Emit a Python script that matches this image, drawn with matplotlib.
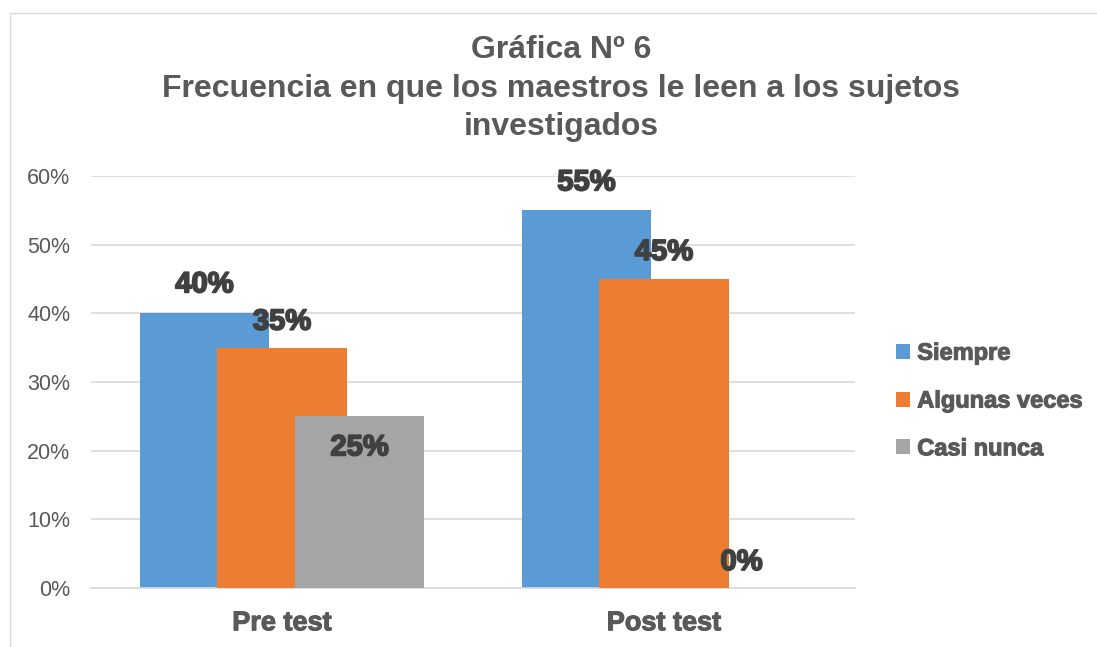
import matplotlib
matplotlib.use("Agg")
import matplotlib.pyplot as plt
import matplotlib.patheffects as pe
from matplotlib.patches import Rectangle
import numpy as np

# ---- data ----
categories = ["Pre test", "Post test"]
series_names = ["Siempre", "Algunas veces", "Casi nunca"]
siempre = [0.40, 0.55]
algunas_veces = [0.35, 0.45]
casi_nunca = [0.25, 0.00]
yticks = [0.0, 0.1, 0.2, 0.3, 0.4, 0.5, 0.6]
ytick_labels = ["0%", "10%", "20%", "30%", "40%", "50%", "60%"]
title_lines = ["Gráfica Nº 6",
               "Frecuencia en que los maestros le leen a los sujetos",
               "investigados"]

# ---- style ----
colors = ["#5B9BD5", "#ED7D31", "#A5A5A5"]
text_gray = "#595959"
label_gray = "#404040"
grid_gray = "#D9D9D9"
plt.rcParams["font.family"] = ["Liberation Sans", "DejaVu Sans"]

W, H = 1097, 647
fig = plt.figure(figsize=(W / 100, H / 100), dpi=100)
fig.patch.set_facecolor("white")

# outer chart frame
fig.patches.append(Rectangle((10 / W, -0.2), 1.5, 1.2 - 13 / H,
                             transform=fig.transFigure, fill=False,
                             edgecolor="#D9D9D9", linewidth=1.0))

ax = fig.add_axes([91 / W, 1 - 588 / H, (855 - 91) / W, (588 - 176) / H])
ax.set_xlim(-0.5, 1.5)
ax.set_ylim(0, 0.6)

x = np.arange(len(categories))
step = 0.203
width = 0.34
all_series = [siempre, algunas_veces, casi_nunca]
# per-bar label offsets in pixels (vertical center offset from bar top)
label_offsets = [[29, 28], [26, 27], [-31, 26]]

for i, (vals, name) in enumerate(zip(all_series, series_names)):
    pos = x + (i - 1) * step
    ax.bar(pos, vals, width=width, color=colors[i], label=name, zorder=2 + i)
    for j, (px, v) in enumerate(zip(pos, vals)):
        ax.annotate(f"{int(round(v * 100))}%", xy=(px, v),
                    xytext=(0, label_offsets[i][j] * 0.72),
                    textcoords="offset points", ha="center", va="center",
                    fontsize=21, fontweight="bold", color=label_gray,
                    zorder=10,
                    path_effects=[pe.withStroke(linewidth=1.3, foreground=label_gray)])

ax.set_yticks(yticks)
ax.set_yticklabels(ytick_labels)
ax.set_xticks(x)
ax.set_xticklabels(categories)
ax.yaxis.grid(True, color=grid_gray, linewidth=1.2, zorder=0)
ax.set_axisbelow(True)
for s in ["top", "right", "left"]:
    ax.spines[s].set_visible(False)
ax.spines["bottom"].set_color(grid_gray)
ax.spines["bottom"].set_linewidth(1.2)
ax.tick_params(axis="both", length=0)
ax.tick_params(axis="y", labelsize=15.5, labelcolor=text_gray, pad=15)
ax.tick_params(axis="x", labelsize=19.5, labelcolor=text_gray, pad=16)
for t in ax.get_xticklabels():
    t.set_fontweight("bold")
    t.set_path_effects([pe.withStroke(linewidth=0.8, foreground=text_gray)])

# title
for k, (line, yc) in enumerate(zip(title_lines, [50, 89, 127])):
    fig.text(561 / W, 1 - yc / H, line, ha="center", va="center",
             fontsize=23, fontweight="bold", color=text_gray)

# legend
leg = ax.legend(loc="center left", bbox_to_anchor=(896 / W, 1 - 401 / H),
                bbox_transform=fig.transFigure, frameon=False,
                fontsize=17, handlelength=0.6, handleheight=0.6,
                handletextpad=0.3, labelspacing=1.05, borderaxespad=0,
                borderpad=0)
for t in leg.get_texts():
    t.set_color(text_gray)
    t.set_fontweight("bold")
    t.set_path_effects([pe.withStroke(linewidth=0.8, foreground=text_gray)])

fig.savefig("out.png", dpi=100)
